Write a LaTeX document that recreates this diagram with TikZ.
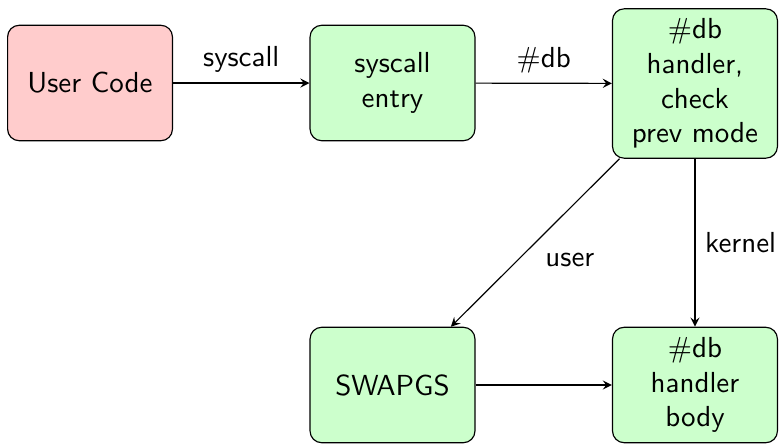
\documentclass[tikz,border=0pt]{standalone}
\usepackage{tikz}

\begin{document}
\begin{tikzpicture}[>=stealth,
		stage/.style={draw, rounded corners, fill=green!20, align=center, text width=1.75cm, minimum width=2cm, minimum height=1.4cm, font=\sffamily},
		lbl/.style={font=\sffamily}]
		\useasboundingbox (0,0) rectangle (9.449,-5.374);
		\node[stage, fill=red!20] at (1.092,-1.007) (user) {User Code};
		\node[stage] at (4.761,-1.007) (entry) {syscall entry};
		\node[stage] at (8.43,-1.013) (check) {\#db handler, check prev mode};
		\node[stage] at (4.761,-4.67) (swapgs) {SWAPGS};
		\node[stage] at (8.43,-4.67) (body) {\#db handler body};
		\draw[->] (user) -- node[lbl, above] {syscall} (entry);
		\draw[->] (entry) -- node[lbl, above] {\#db} (check);
		\draw[->] (check) -- node[lbl, below right] {user} (swapgs);
		\draw[->] (check) -- node[lbl, right] {kernel} (body);
		\draw[->] (swapgs) -- (body);
	\end{tikzpicture}
\end{document}
